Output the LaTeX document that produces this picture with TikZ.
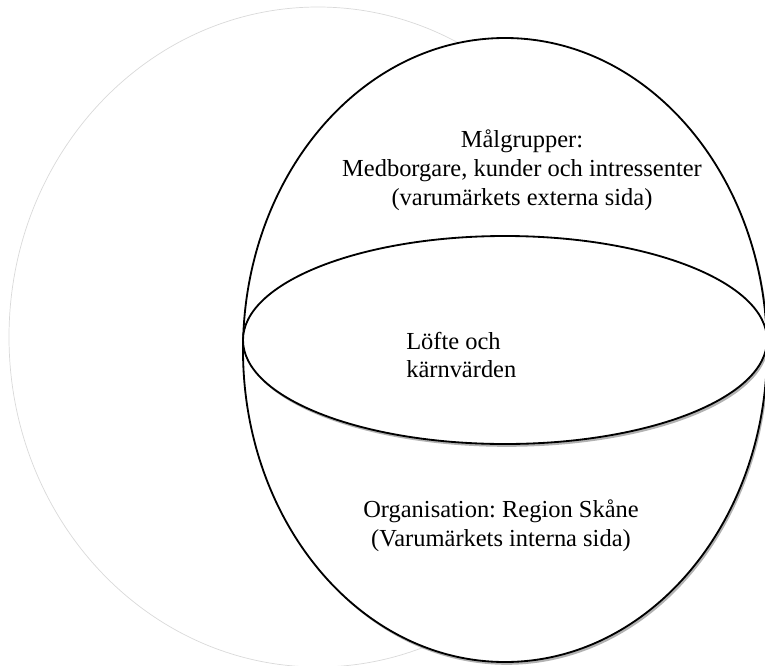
\documentclass[tikz,border=0pt]{standalone}
\usepackage{fontspec}
\setmainfont{Liberation Serif}
\usepackage{tikz}
\usetikzlibrary{shadows}
\frenchspacing

\begin{document}
\begin{tikzpicture}[x=0.025cm, y=-0.025cm,
  rim/.style={draw=black, line width=1.3pt, fill=white,
              drop shadow={shadow xshift=1.2pt, shadow yshift=-2pt, opacity=0.3, fill=black}},
  faint/.style={draw=black!15, line width=0.5pt},
  label/.style={inner sep=0pt, align=center, font=\fontsize{17.4}{20.6}\selectfont}
]
  \useasboundingbox (0,0) rectangle (765,666);

  % background circle
  \draw[faint] (318,337) ellipse [x radius=309, y radius=330];

  % outer and core ellipses
  \draw[rim] (505,350) ellipse [x radius=262, y radius=312];
  \draw[rim] (505,340) ellipse [x radius=262, y radius=104];

  % Labels
  \node[label] (ext) at (522,170) {Målgrupper:\\Medborgare, kunder och intressenter\\(varumärkets externa sida)};
  \node[label, align=left, anchor=west] (core) at (406,355) {Löfte och\\kärnvärden};
  \node[label] (int) at (501,526) {Organisation: Region Skåne\\(Varumärkets interna sida)};
\end{tikzpicture}
\end{document}
